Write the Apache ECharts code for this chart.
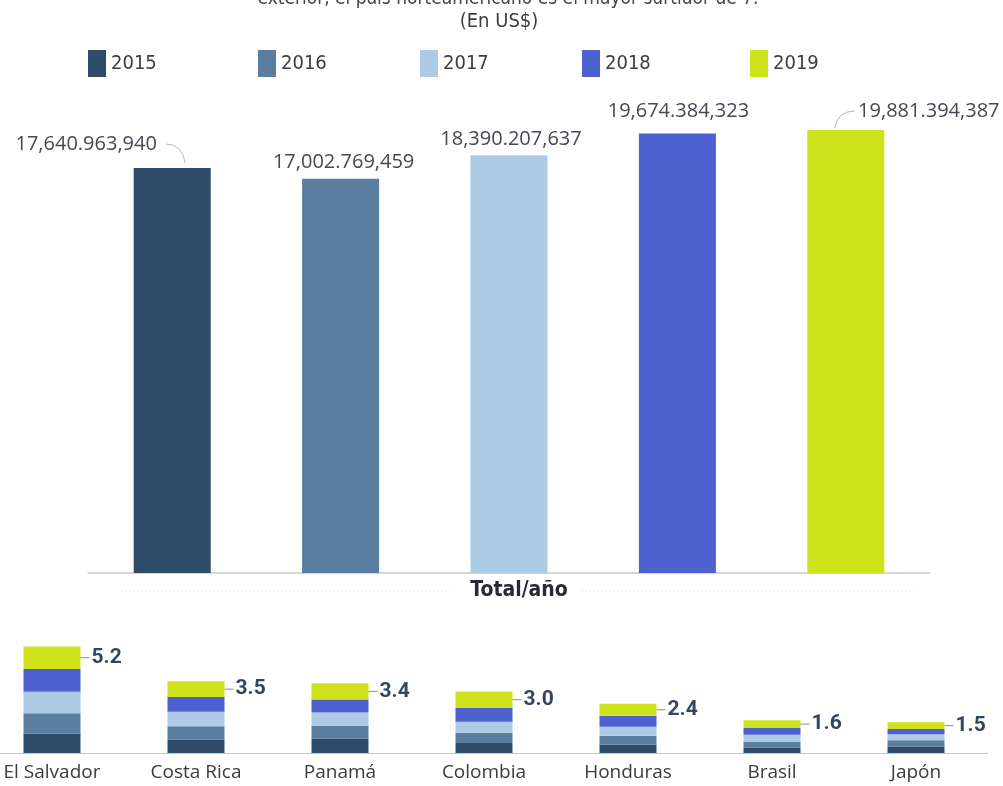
<!DOCTYPE html>
<html>
<head>
<meta charset="utf-8">
<script src="https://cdn.jsdelivr.net/npm/echarts@6/dist/echarts.min.js"></script>
<style>
  html, body { margin: 0; padding: 0; background: #fff; }
  #chart { width: 1003px; height: 786px; }
</style>
</head>
<body>
<div id="chart"></div>
<script>
// datos
var years = ['2015', '2016', '2017', '2018', '2019'];
var totalPorAnio = [17640963940, 17002769459, 18390207637, 19674384323, 19881394387];

var paises = ['El Salvador', 'Costa Rica', 'Panamá', 'Colombia', 'Honduras', 'Brasil', 'Japón'];
var v2015 = [0.95, 0.66, 0.70, 0.49, 0.42, 0.27, 0.31];
var v2016 = [0.99, 0.65, 0.63, 0.50, 0.42, 0.27, 0.31];
var v2017 = [1.05, 0.70, 0.65, 0.53, 0.44, 0.35, 0.29];
var v2018 = [1.11, 0.72, 0.63, 0.68, 0.54, 0.33, 0.26];
var v2019 = [1.10, 0.77, 0.79, 0.80, 0.58, 0.38, 0.33];
var totalPais = [5.2, 3.5, 3.4, 3.0, 2.4, 1.6, 1.5];

// estilos
var yearColors = ['#2f4b6a', '#5a7e9f', '#aecbe6', '#4d62cf', '#cfe31c'];
var legendLefts = [88, 258, 420, 582, 750];
var mainMin = -6.25e9;
var narrow = '"Liberation Sans Narrow", "DejaVu Sans Condensed", Roboto, sans-serif';
// posicion de etiquetas respecto a la parte superior de cada barra
var labelPos = [
  { dx: -86, dy: -24, curve: [[-6, -24], [10, -24], [13, -5]] },
  { dx: 3, dy: -17 },
  { dx: 2, dy: -16 },
  { dx: 1, dy: -22 },
  { dx: 83, dy: -19, curve: [[9, -19], [-8, -19], [-11, -2]] }
];

// 17640963940 -> "17,640.963,940"
function formatoMonto(v) {
  var s = String(v);
  var groups = [];
  while (s.length > 3) {
    groups.unshift(s.slice(-3));
    s = s.slice(0, -3);
  }
  groups.unshift(s);
  var seps = [',', '.', ','];
  var out = groups[0];
  for (var i = 1; i < groups.length; i++) {
    out += seps[seps.length - (groups.length - i)] + groups[i];
  }
  return out;
}

var chart = echarts.init(document.getElementById('chart'));

var serieData = [v2015, v2016, v2017, v2018, v2019];
var barrasPais = years.map(function (y, k) {
  var s = {
    name: y,
    type: 'bar',
    stack: 'total',
    xAxisIndex: 1,
    yAxisIndex: 1,
    barWidth: 57,
    itemStyle: { color: yearColors[k] },
    data: serieData[k]
  };
  if (k === years.length - 1) {
    s.label = {
      show: true,
      position: 'right',
      distance: 0,
      formatter: function (p) {
        return '{ln|}{v|' + totalPais[p.dataIndex].toFixed(1) + '}';
      },
      rich: {
        ln: { width: 9, height: 1, backgroundColor: '#8d8d8d' },
        v: { fontSize: 21, fontWeight: 'bold', color: '#33465f', fontFamily: 'Roboto', padding: [0, 0, 0, 2] }
      }
    };
  }
  return s;
});

var option = {
  backgroundColor: '#fff',
  animation: false,
  legend: years.map(function (y, i) {
    return {
      data: [y],
      left: legendLefts[i],
      top: 50,
      padding: 0,
      icon: 'rect',
      itemWidth: 18,
      itemHeight: 27,
      selectedMode: false,
      textStyle: { fontSize: 20, fontFamily: narrow, color: '#3c3c44' }
    };
  }),
  graphic: [
    {
      type: 'text', x: 508, y: 9,
      style: {
        text: 'exterior, el país norteamericano es el mayor surtidor de 7.',
        fontSize: 19, fontFamily: narrow, fill: '#45454d',
        align: 'center', verticalAlign: 'bottom'
      }
    },
    {
      type: 'text', x: 499, y: 22,
      style: {
        text: '(En US$)', fontSize: 20, fontFamily: narrow, fill: '#3c3c44',
        align: 'center', verticalAlign: 'middle'
      }
    },
    {
      type: 'text', x: 519, y: 591,
      style: {
        text: 'Total/año', fontSize: 21, fontWeight: 'bold', fontFamily: narrow, fill: '#272a36',
        align: 'center', verticalAlign: 'middle'
      }
    },
    {
      type: 'line', shape: { x1: 122, y1: 591, x2: 452, y2: 591 },
      style: { stroke: '#dcdcdc', lineWidth: 1, lineDash: [1, 3] }
    },
    {
      type: 'line', shape: { x1: 582, y1: 591, x2: 918, y2: 591 },
      style: { stroke: '#dcdcdc', lineWidth: 1, lineDash: [1, 3] }
    }
  ],
  grid: [
    { left: 88, right: 73, top: 128, bottom: 213, outerBoundsMode: 'none' },
    { left: -20, right: 15, top: 630, bottom: 33, outerBoundsMode: 'none' }
  ],
  xAxis: [
    {
      type: 'category', gridIndex: 0, data: years,
      axisLine: { onZero: false, lineStyle: { color: '#c9c9c9', width: 1.5 } },
      axisTick: { show: false },
      axisLabel: { show: false }
    },
    {
      type: 'category', gridIndex: 1, data: paises,
      axisLine: { onZero: false, lineStyle: { color: '#c6c6c6', width: 1 } },
      axisTick: { show: false },
      axisLabel: { margin: 10, fontSize: 19, fontFamily: '"Open Sans"', color: '#3b3b3b' }
    }
  ],
  yAxis: [
    { type: 'value', gridIndex: 0, min: mainMin, max: 20e9, show: false },
    { type: 'value', gridIndex: 1, min: 0, max: 6, show: false }
  ],
  series: [
    {
      name: 'Total/año',
      type: 'custom',
      xAxisIndex: 0,
      yAxisIndex: 0,
      data: totalPorAnio.map(function (v, i) { return [i, v]; }),
      renderItem: function (params, api) {
        var i = params.dataIndex;
        var top = api.coord([api.value(0), api.value(1)]);
        var base = api.coord([api.value(0), mainMin]);
        var w = 77;
        var pos = labelPos[i];
        var children = [
          {
            type: 'rect',
            shape: { x: top[0] - w / 2, y: top[1], width: w, height: base[1] - top[1] },
            style: { fill: yearColors[i] }
          },
          {
            type: 'text',
            x: top[0] + pos.dx,
            y: top[1] + pos.dy,
            style: {
              text: formatoMonto(totalPorAnio[i]),
              fontSize: 20, fontFamily: '"Open Sans"', fill: '#454852',
              align: 'center', verticalAlign: 'middle'
            }
          }
        ];
        if (pos.curve) {
          var c = pos.curve;
          children.push({
            type: 'bezierCurve',
            shape: {
              x1: top[0] + c[0][0], y1: top[1] + c[0][1],
              cpx1: top[0] + c[1][0], cpy1: top[1] + c[1][1],
              x2: top[0] + c[2][0], y2: top[1] + c[2][1]
            },
            style: { stroke: '#b8b8b8', lineWidth: 1, fill: null }
          });
        }
        return { type: 'group', children: children };
      }
    }
  ].concat(barrasPais)
};

chart.setOption(option);
</script>
</body>
</html>
